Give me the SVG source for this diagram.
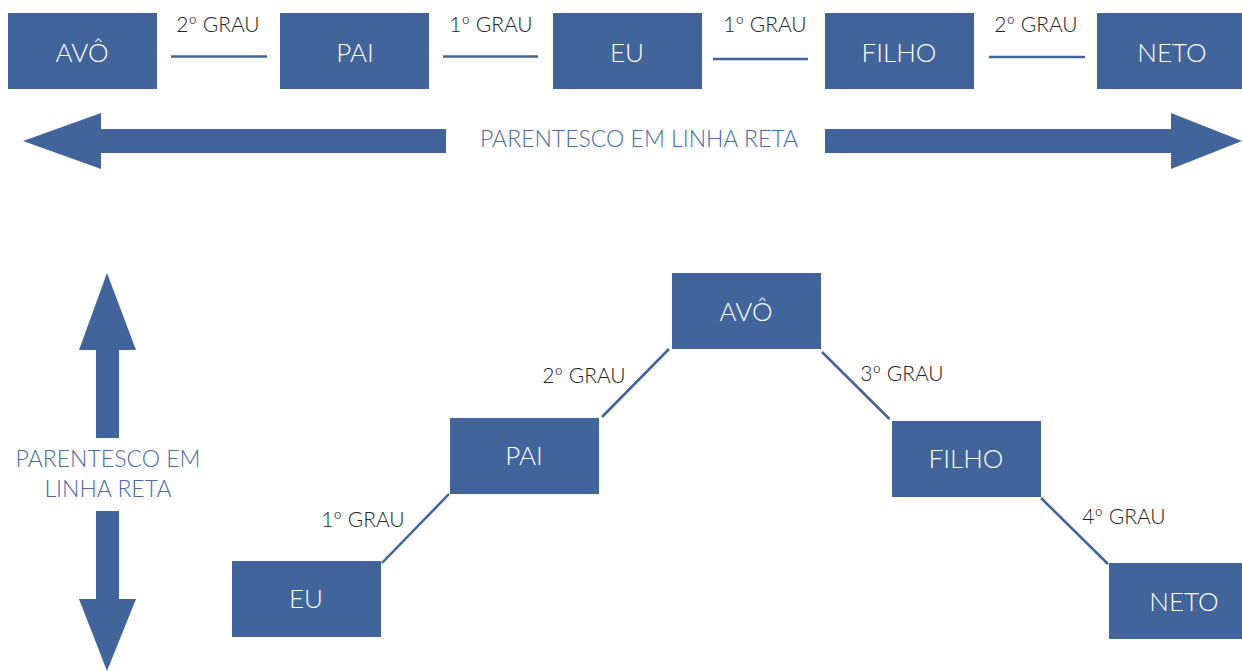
<svg xmlns="http://www.w3.org/2000/svg" width="1242" height="671" viewBox="0 0 1242 671">
<style>
.box{fill:#41649b}
.bl{font-family:Lato,"Open Sans","Liberation Sans",sans-serif;font-weight:300;font-size:26px;fill:#ffffff;text-anchor:middle}
.gr{font-family:Lato,"Open Sans","Liberation Sans",sans-serif;font-weight:300;font-size:21px;fill:#222222;text-anchor:middle}
.ttl{font-family:Lato,"Open Sans","Liberation Sans",sans-serif;font-weight:300;font-size:23px;fill:#4a6aa3;text-anchor:middle}
.ln{stroke:#41649b;stroke-width:2.5;fill:none}
.arr{fill:#41649b}
</style>
<rect width="1242" height="671" fill="#ffffff"/>
<g id="top-avo"><rect class="box" x="8" y="13" width="149" height="76"/><text class="bl" x="82" y="62">AVÔ</text></g>
<g id="top-pai"><rect class="box" x="280" y="13" width="149" height="76"/><text class="bl" x="355" y="62">PAI</text></g>
<g id="top-eu"><rect class="box" x="553" y="13" width="149" height="76"/><text class="bl" x="627" y="62">EU</text></g>
<g id="top-filho"><rect class="box" x="825" y="13" width="149" height="76"/><text class="bl" x="899" y="62">FILHO</text></g>
<g id="top-neto"><rect class="box" x="1097" y="13" width="145" height="76"/><text class="bl" x="1172" y="62">NETO</text></g>
<g id="top-connectors">
<line class="ln" x1="171" y1="56.5" x2="267" y2="56.5"/>
<line class="ln" x1="443" y1="56.5" x2="538" y2="56.5"/>
<line class="ln" x1="713" y1="59" x2="808" y2="59"/>
<line class="ln" x1="989" y1="57" x2="1085" y2="57"/>
</g>
<g id="top-labels">
<text class="gr" x="218" y="32">2º GRAU</text>
<text class="gr" x="491" y="32">1º GRAU</text>
<text class="gr" x="765" y="32">1º GRAU</text>
<text class="gr" x="1036" y="32">2º GRAU</text>
</g>
<g id="horizontal-arrows">
<polygon class="arr" points="23,141 101,113 101,129 446,129 446,153 101,153 101,169"/>
<polygon class="arr" points="1242,141 1171,113 1171,129 825,129 825,153 1171,153 1171,169"/>
<text class="ttl" x="639" y="147">PARENTESCO EM LINHA RETA</text>
</g>
<g id="vertical-arrows">
<polygon class="arr" points="107,273 136,350 119,350 119,438 96,438 96,350 79,350"/>
<polygon class="arr" points="107,671 136,599 119,599 119,511 96,511 96,599 79,599"/>
<text class="ttl" x="108" y="467">PARENTESCO EM</text>
<text class="ttl" x="108" y="497">LINHA RETA</text>
</g>
<g id="eu"><rect class="box" x="232" y="561" width="149" height="76"/><text class="bl" x="306" y="608">EU</text></g>
<g id="pai"><rect class="box" x="450" y="418" width="149" height="76"/><text class="bl" x="524" y="465">PAI</text></g>
<g id="avo"><rect class="box" x="672" y="273" width="149" height="76"/><text class="bl" x="746" y="321">AVÔ</text></g>
<g id="filho"><rect class="box" x="892" y="421" width="149" height="76"/><text class="bl" x="966" y="468">FILHO</text></g>
<g id="neto"><rect class="box" x="1109" y="563" width="133" height="76"/><text class="bl" x="1184" y="611">NETO</text></g>
<g id="connectors">
<line class="ln" x1="382" y1="563" x2="449" y2="494"/>
<line class="ln" x1="602" y1="417" x2="669" y2="349"/>
<line class="ln" x1="822" y1="352" x2="889.5" y2="419"/>
<line class="ln" x1="1041" y1="498" x2="1108" y2="564"/>
</g>
<g id="labels">
<text class="gr" x="584" y="383">2º GRAU</text>
<text class="gr" x="363" y="527">1º GRAU</text>
<text class="gr" x="902" y="381">3º GRAU</text>
<text class="gr" x="1124" y="524">4º GRAU</text>
</g>
</svg>
